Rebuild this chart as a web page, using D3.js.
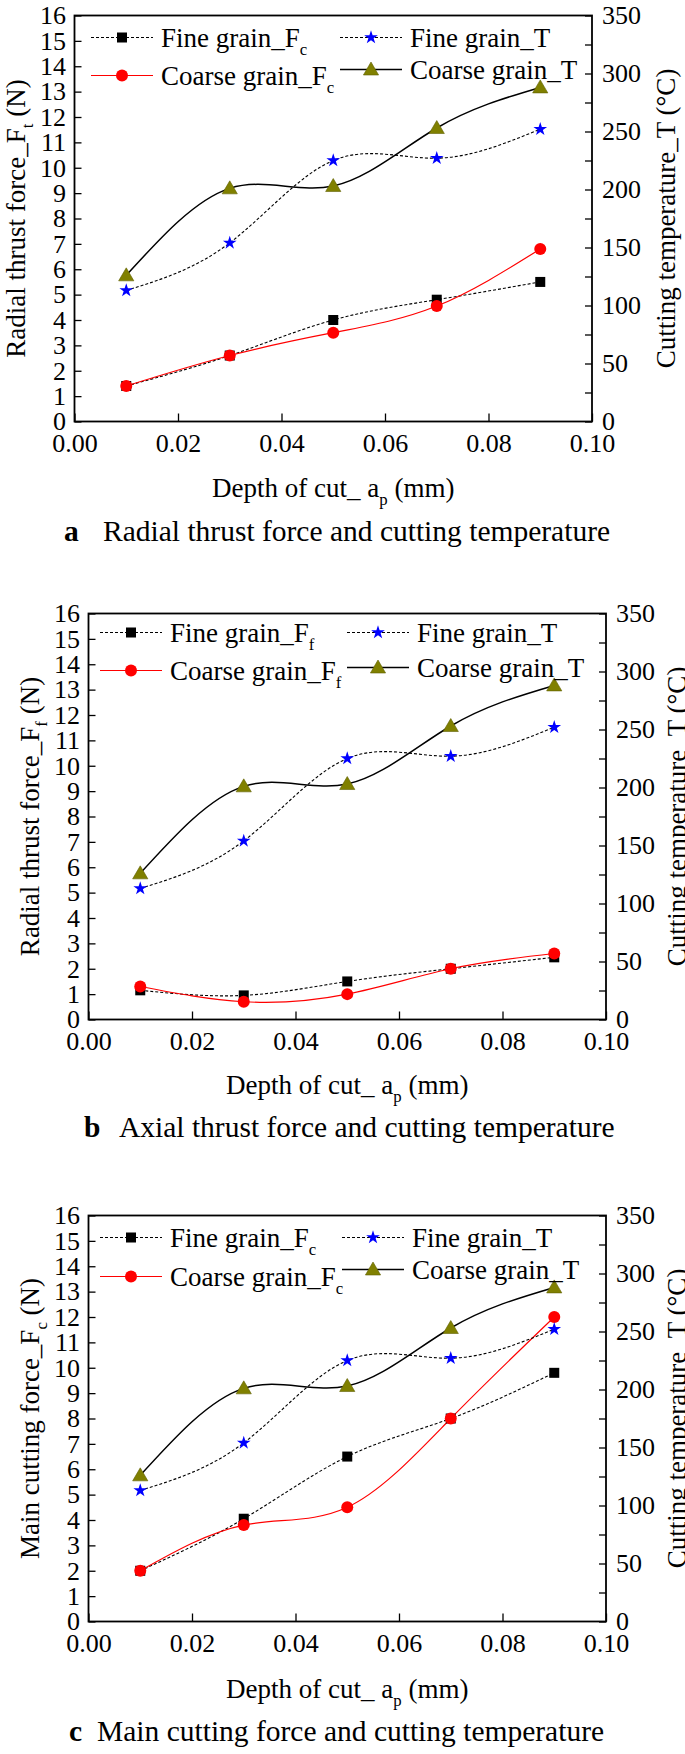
<!DOCTYPE html>
<html><head><meta charset="utf-8">
<script src="https://cdn.jsdelivr.net/npm/d3@7"></script>
<style>html,body{margin:0;padding:0;background:#fff;} svg{display:block;}</style>
</head><body>
<svg id="chart" width="685" height="1754"></svg>
<script>
// ---------- data ----------
const depthOfCut = [0.01, 0.03, 0.05, 0.07, 0.09];
const xTickValues = [0, 0.02, 0.04, 0.06, 0.08, 0.10];
const leftTickValues = [0,1,2,3,4,5,6,7,8,9,10,11,12,13,14,15,16];
const rightTickValues = [0,25,50,75,100,125,150,175,200,225,250,275,300,325,350];
const rightLabelValues = [0,50,100,150,200,250,300,350];
const fineTemp = [113, 154, 225, 227, 252];
const coarseTemp = [126, 201, 203, 253, 288];
const radialFine = [1.4, 2.6, 4.0, 4.8, 5.5];
const radialCoarse = [1.4, 2.6, 3.5, 4.55, 6.8];
const axialFine = [1.15, 0.95, 1.5, 2.0, 2.45];
const axialCoarse = [1.3, 0.7, 1.0, 2.0, 2.6];
const mainFine = [2.0, 4.05, 6.5, 8.0, 9.8];
const mainCoarse = [2.0, 3.8, 4.5, 8.0, 12.0];

// ---------- layout ----------
const FONT = "'Liberation Serif','Times New Roman',serif";
const W = 517.5, H = 406;
const panels = [
  {left:74.5, top:15.5, fine:radialFine, coarse:radialCoarse, legSub:'c',
   yTitle:'Radial thrust force_F', ySub:'t', letter:'a', caption:'Radial thrust force and cutting temperature',
   letterX:64, captionX:103, xTitleY:496.5, captionY:541, rightTitleDx:74,
   leg:{c1:16.5, c2:265.5, r1:22, r2:60, r2b:54}},
  {left:88.5, top:613.5, fine:axialFine, coarse:axialCoarse, legSub:'f',
   yTitle:'Radial thrust force_F', ySub:'f', letter:'b', caption:'Axial thrust force and cutting temperature',
   letterX:84, captionX:119, xTitleY:1094, captionY:1137, rightTitleDx:71,
   leg:{c1:11.5, c2:258.5, r1:19, r2:57, r2b:54}},
  {left:88.5, top:1215.5, fine:mainFine, coarse:mainCoarse, legSub:'c',
   yTitle:'Main cutting force_F', ySub:'c', letter:'c', caption:'Main cutting force and cutting temperature',
   letterX:69, captionX:97, xTitleY:1697.5, captionY:1741, rightTitleDx:71,
   leg:{c1:11.5, c2:253.5, r1:22, r2:61, r2b:54}}
];

const svg = d3.select('#chart');
svg.append('rect').attr('width',685).attr('height',1754).attr('fill','#fff');

const OLIVE = '#808000';
function drawMarker(sel, type, x, y) {
  if (type === 'square') {
    sel.append('rect').attr('x', x-5).attr('y', y-5).attr('width', 10).attr('height', 10).attr('fill', '#000');
  } else if (type === 'circle') {
    sel.append('circle').attr('cx', x).attr('cy', y).attr('r', 6).attr('fill', '#ff0000');
  } else if (type === 'star') {
    sel.append('path').attr('d', d3.symbol(d3.symbolStar, 58)()).attr('transform', `translate(${x},${y})`).attr('fill', '#0000ff');
  } else if (type === 'triangle') {
    sel.append('path').attr('d', `M0,-7.5L7.6,5.5L-7.6,5.5Z`).attr('transform', `translate(${x},${y})`)
      .attr('fill', OLIVE).attr('stroke', '#5f5f00').attr('stroke-width', 0.6);
  }
}
function subText(textSel, main, sub, rest, size) {
  textSel.append('tspan').text(main);
  textSel.append('tspan').attr('font-size', size*0.62).attr('dy', size*0.3).text(sub);
  if (rest) textSel.append('tspan').attr('dy', -size*0.3).text(rest);
}

panels.forEach(p => {
  const g = svg.append('g').attr('transform', `translate(${p.left},${p.top})`);
  const x = d3.scaleLinear().domain([0, 0.1]).range([0, W]);
  const yL = d3.scaleLinear().domain([0, 16]).range([H, 0]);
  const yR = d3.scaleLinear().domain([0, 350]).range([H, 0]);

  const styleAxis = (ga) => {
    ga.select('.domain').remove();
    ga.selectAll('line').attr('stroke', '#000').attr('stroke-width', 1.3);
    ga.selectAll('text').attr('font-family', FONT).attr('font-size', 26).attr('fill', '#000');
    ga.attr('font-family', null).attr('font-size', null);
  };
  g.append('g').call(d3.axisLeft(yL).tickValues(leftTickValues).tickSizeInner(-7).tickSizeOuter(0)
      .tickPadding(8.5).tickFormat(d3.format('d'))).call(styleAxis);
  g.append('g').attr('transform', `translate(${W},0)`)
    .call(d3.axisRight(yR).tickValues(rightTickValues).tickSizeInner(-7).tickSizeOuter(0)
      .tickPadding(10).tickFormat(d => rightLabelValues.includes(d) ? d : '')).call(styleAxis);
  g.append('g').attr('transform', `translate(0,${H})`)
    .call(d3.axisBottom(x).tickValues(xTickValues).tickSizeInner(-8).tickSizeOuter(0)
      .tickPadding(12).tickFormat(d3.format('.2f'))).call(styleAxis);

  g.append('rect').attr('width', W).attr('height', H).attr('fill', 'none')
    .attr('stroke', '#000').attr('stroke-width', 1.8);

  const series = [
    {vals: p.fine, y: yL, marker: 'square', stroke: '#000', dash: '3,2', sw: 1.1},
    {vals: p.coarse, y: yL, marker: 'circle', stroke: '#ff0000', dash: null, sw: 1.2},
    {vals: fineTemp, y: yR, marker: 'star', stroke: '#000', dash: '3,2', sw: 1.1},
    {vals: coarseTemp, y: yR, marker: 'triangle', stroke: '#000', dash: null, sw: 1.5}
  ];
  series.forEach(s => {
    const line = d3.line().x((d, i) => x(depthOfCut[i])).y(d => s.y(d)).curve(d3.curveNatural);
    g.append('path').attr('d', line(s.vals)).attr('fill', 'none').attr('stroke', s.stroke)
      .attr('stroke-width', s.sw).attr('stroke-dasharray', s.dash);
  });
  series.forEach(s => {
    s.vals.forEach((v, i) => drawMarker(g, s.marker, x(depthOfCut[i]), s.y(v)));
  });

  // legend
  const L = p.leg;
  const legendItems = [
    {x0: L.c1, y: L.r1, s: series[0], main: 'Fine grain_F', sub: p.legSub},
    {x0: L.c2, y: L.r1, s: series[2], main: 'Fine grain_T', sub: null},
    {x0: L.c1, y: L.r2, s: series[1], main: 'Coarse grain_F', sub: p.legSub},
    {x0: L.c2, y: L.r2b, s: series[3], main: 'Coarse grain_T', sub: null}
  ];
  legendItems.forEach(it => {
    g.append('line').attr('x1', it.x0).attr('x2', it.x0 + 62).attr('y1', it.y).attr('y2', it.y)
      .attr('stroke', it.s.stroke).attr('stroke-width', it.s.sw).attr('stroke-dasharray', it.s.dash);
    drawMarker(g, it.s.marker, it.x0 + 31, it.y);
    const t = g.append('text').attr('x', it.x0 + 70).attr('y', it.y + 9)
      .attr('font-family', FONT).attr('font-size', 27);
    if (it.sub) subText(t, it.main, it.sub, null, 27); else t.text(it.main);
  });

  // left axis title
  const lt = svg.append('text').attr('transform', `translate(${p.left - 59 + 9},${p.top + H/2}) rotate(-90)`)
    .attr('text-anchor', 'middle').attr('font-family', FONT).attr('font-size', 27);
  subText(lt, p.yTitle, p.ySub, ' (N)', 27);
  // right axis title
  svg.append('text').attr('transform', `translate(${p.left + W + p.rightTitleDx + 9},${p.top + H/2}) rotate(-90)`)
    .attr('text-anchor', 'middle').attr('font-family', FONT).attr('font-size', 27)
    .text('Cutting temperature_T (\u00B0C)');
  // x axis title
  const xt = svg.append('text').attr('x', p.left + W/2).attr('y', p.xTitleY)
    .attr('text-anchor', 'middle').attr('font-family', FONT).attr('font-size', 27);
  subText(xt, 'Depth of cut_ a', 'p', ' (mm)', 27);
  // caption
  svg.append('text').attr('x', p.letterX).attr('y', p.captionY).attr('font-family', FONT)
    .attr('font-size', 29.5).attr('font-weight', 'bold').text(p.letter);
  svg.append('text').attr('x', p.captionX).attr('y', p.captionY).attr('font-family', FONT)
    .attr('font-size', 29.5).text(p.caption);
});
</script>
</body></html>
